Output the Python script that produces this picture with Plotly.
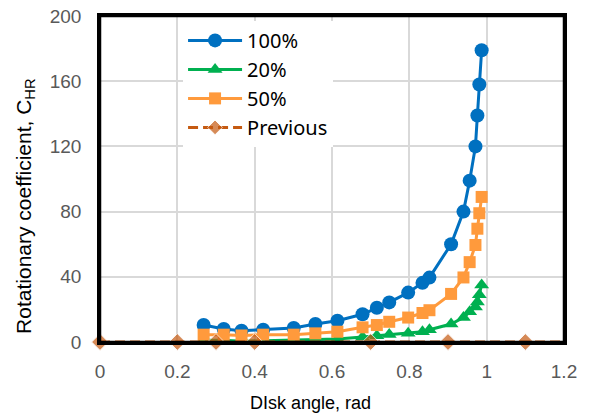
import plotly.graph_objects as go

x_common = [0.268, 0.320, 0.366, 0.422, 0.501, 0.557, 0.614, 0.679, 0.716, 0.748,
            0.797, 0.834, 0.852, 0.908, 0.940, 0.956, 0.971, 0.976, 0.981, 0.987]
y_100 = [10.4, 8.0, 6.9, 7.5, 8.6, 11.0, 13.0, 17.0, 21.0, 24.3,
         30.3, 36.3, 39.5, 60.0, 80.0, 99.0, 120.0, 139.0, 158.0, 179.0]
y_20 = [1.0, 1.0, 0.5, 0.8, 1.0, 1.2, 1.8, 3.0, 3.8, 4.6,
        5.3, 6.3, 7.5, 11.0, 15.0, 18.5, 21.5, 24.5, 29.0, 35.0]
y_50 = [4.5, 4.5, 4.0, 4.5, 4.5, 5.3, 6.3, 9.0, 10.4, 12.4,
        15.0, 17.8, 19.5, 29.5, 39.6, 49.0, 59.5, 69.5, 79.0, 89.0]
x_prev = [0.0, 0.2, 0.3, 0.4, 0.7, 0.9, 1.1, 1.2]
y_prev = [0, 0, 0, 0, 0, 0, 0, 0]

x_ticks = [0, 0.2, 0.4, 0.6, 0.8, 1.0, 1.2]
x_tick_labels = ["0", "0.2", "0.4", "0.6", "0.8", "1", "1.2"]
y_ticks = [0, 40, 80, 120, 160, 200]

FONT = "Liberation Sans, Arial, sans-serif"

fig = go.Figure()
fig.add_trace(go.Scatter(x=x_common, y=y_100, name="100%", mode="lines+markers",
                         line=dict(color="#0070C0", width=3),
                         marker=dict(symbol="circle", size=14, color="#0070C0")))
fig.add_trace(go.Scatter(x=x_common, y=y_20, name="20%", mode="lines+markers",
                         line=dict(color="#00B050", width=3),
                         marker=dict(symbol="triangle-up", size=13, color="#00B050")))
fig.add_trace(go.Scatter(x=x_common, y=y_50, name="50%", mode="lines+markers",
                         line=dict(color="#FF9A3C", width=3),
                         marker=dict(symbol="square", size=12, color="#FF9A3C")))
fig.add_trace(go.Scatter(x=x_prev, y=y_prev, name="Previous", mode="lines+markers",
                         line=dict(color="#C55A11", width=3, dash="10px,5px"),
                         marker=dict(symbol="diamond", size=[13]*7 + [0], color="#C55A11"),
                         cliponaxis=False))

fig.update_layout(
    width=595, height=418,
    margin=dict(l=100, r=31, t=16, b=76),
    paper_bgcolor="white", plot_bgcolor="white",
    font=dict(family=FONT, size=18, color="black"),
    showlegend=True,
    legend=dict(x=0.179, y=0.985, xanchor="left", yanchor="top",
                bgcolor="rgba(255,255,255,1)", itemwidth=54,
                font=dict(family="Noto Sans, Open Sans, sans-serif", size=20, color="black"),
                tracegroupgap=0),
    shapes=[dict(type="rect", xref="paper", yref="paper", x0=0, x1=1, y0=0, y1=1,
                 line=dict(color="black", width=2.5), layer="above")],
    annotations=[
        dict(text="Rotationary coefficient, C<sub>HR</sub>", xref="paper", yref="paper",
             x=-0.162, y=0.417, xanchor="center", yanchor="middle", textangle=-90,
             showarrow=False, font=dict(family=FONT, size=21, color="black")),
        dict(text="DIsk angle, rad", xref="paper", yref="paper",
             x=0.453, y=-0.187, xanchor="center", yanchor="middle",
             showarrow=False, font=dict(family=FONT, size=18, color="black")),
    ],
)
fig.update_xaxes(range=[0, 1.2], tickvals=x_ticks, ticktext=x_tick_labels,
                 showgrid=True, gridcolor="#D9D9D9", gridwidth=1.5,
                 showline=True, linecolor="black", linewidth=2.5, mirror=True,
                 zeroline=False, ticks="", ticklabelstandoff=10, automargin=False,
                 ticklabeloverflow="allow",
                 tickfont=dict(family=FONT, size=19, color="#595959"))
fig.update_yaxes(range=[0, 200], tickvals=y_ticks,
                 showgrid=True, gridcolor="#D9D9D9", gridwidth=1.5,
                 showline=True, linecolor="black", linewidth=2.5, mirror=True,
                 zeroline=False, ticks="", ticklabelstandoff=12, automargin=False,
                 ticklabeloverflow="allow",
                 tickfont=dict(family=FONT, size=19, color="#595959"))

fig.write_html("out.html", config={"displayModeBar": False},
               post_script="document.body.style.margin='0px';")
